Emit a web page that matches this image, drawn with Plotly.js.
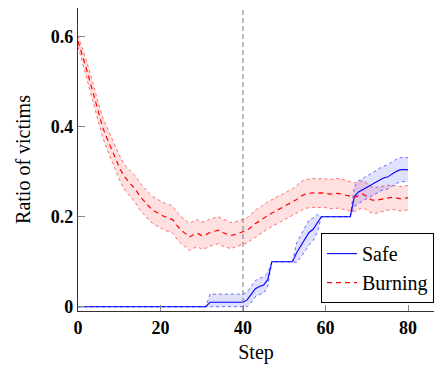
<!DOCTYPE html>
<html>
<head>
<meta charset="utf-8">
<script src="https://cdn.plot.ly/plotly-3.0.1.min.js"></script>
<style>
html,body{margin:0;padding:0;background:#fff;}
#chart{width:435px;height:367px;}
</style>
</head>
<body>
<div id="chart"></div>
<script>
// Steps 0..80
var steps = [];
for (var i = 0; i <= 80; i++) steps.push(i);

// Burning victims ratio (mean)
var burningMean = [
  0.590, 0.562, 0.530, 0.497, 0.462, 0.428, 0.398, 0.375, 0.352, 0.330,
  0.310, 0.292, 0.280, 0.270, 0.260, 0.245, 0.235, 0.225, 0.215, 0.210,
  0.205, 0.200, 0.197, 0.193, 0.180, 0.170, 0.163, 0.155, 0.160, 0.163,
  0.158, 0.160, 0.165, 0.168, 0.170, 0.165, 0.162, 0.158, 0.160, 0.163,
  0.166, 0.170, 0.177, 0.185, 0.190, 0.197, 0.203, 0.208, 0.213, 0.218,
  0.222, 0.227, 0.232, 0.238, 0.245, 0.250, 0.252, 0.253, 0.252, 0.253,
  0.252, 0.250, 0.251, 0.252, 0.250, 0.248, 0.245, 0.243, 0.247, 0.250,
  0.245, 0.238, 0.236, 0.238, 0.240, 0.242, 0.243, 0.242, 0.240, 0.241,
  0.242
];
// Half-width of the burning band
var burningSpread = [
  0.012, 0.015, 0.018, 0.020, 0.020, 0.022, 0.022, 0.024, 0.025, 0.026,
  0.027, 0.028, 0.028, 0.029, 0.030, 0.030, 0.030, 0.030, 0.030, 0.030,
  0.030, 0.030, 0.030, 0.030, 0.030, 0.030, 0.030, 0.030, 0.030, 0.030,
  0.030, 0.030, 0.030, 0.030, 0.030, 0.030, 0.030, 0.029, 0.028, 0.028,
  0.028, 0.028, 0.029, 0.030, 0.030, 0.030, 0.030, 0.030, 0.030, 0.030,
  0.030, 0.030, 0.030, 0.031, 0.032, 0.032, 0.032, 0.032, 0.032, 0.032,
  0.032, 0.032, 0.033, 0.033, 0.033, 0.033, 0.033, 0.032, 0.031, 0.030,
  0.030, 0.029, 0.029, 0.028, 0.028, 0.028, 0.027, 0.027, 0.027, 0.027,
  0.027
];
// Safe victims ratio (mean)
var safeMean = [
  0, 0, 0, 0, 0, 0, 0, 0, 0, 0,
  0, 0, 0, 0, 0, 0, 0, 0, 0, 0,
  0, 0, 0, 0, 0, 0, 0, 0, 0, 0,
  0, 0, 0.010, 0.010, 0.010, 0.010, 0.010, 0.010, 0.010, 0.010,
  0.010, 0.015, 0.028, 0.040, 0.045, 0.048, 0.060, 0.100, 0.100, 0.100,
  0.100, 0.100, 0.100, 0.120, 0.135, 0.150, 0.165, 0.172, 0.185, 0.200,
  0.200, 0.200, 0.200, 0.200, 0.200, 0.200, 0.200, 0.245, 0.255, 0.260,
  0.265, 0.270, 0.275, 0.281, 0.286, 0.288, 0.294, 0.300, 0.304, 0.305,
  0.304
];
// Half-width of the safe band
var safeSpread = [
  0, 0, 0, 0, 0, 0, 0, 0, 0, 0,
  0, 0, 0, 0, 0, 0, 0, 0, 0, 0,
  0, 0, 0, 0, 0, 0, 0, 0, 0, 0,
  0, 0, 0.018, 0.018, 0.018, 0.018, 0.018, 0.018, 0.018, 0.018,
  0.018, 0.018, 0.018, 0.018, 0.018, 0.018, 0.015, 0, 0, 0,
  0, 0, 0, 0.022, 0.025, 0.028, 0.028, 0.025, 0.020, 0,
  0, 0, 0, 0, 0, 0, 0, 0.022, 0.025, 0.025,
  0.025, 0.025, 0.026, 0.026, 0.026, 0.027, 0.027, 0.027, 0.027, 0.027,
  0.027
];
var xTicks = [0, 20, 40, 60, 80];
var yTicks = [0, 0.2, 0.4, 0.6];
var yTickText = ['0', '0.2', '0.4', '0.6'];
var markerStep = 40;

var burnUp = burningMean.map(function(v, i){ return v + burningSpread[i]; });
var burnLo = burningMean.map(function(v, i){ return v - burningSpread[i]; });
var safeUp = safeMean.map(function(v, i){ return v + safeSpread[i]; });
var safeLo = safeMean.map(function(v, i){ return Math.max(0, v - safeSpread[i]); });

var RED = 'rgb(255,0,0)', BLUE = 'rgb(0,0,255)';
var serif = '"Liberation Serif", "DejaVu Serif", serif';

var traces = [
  {x: steps, y: burnUp, mode: 'lines', line: {color: 'rgba(255,0,0,0.55)', width: 1, dash: 'dot'}, showlegend: false, hoverinfo: 'skip'},
  {x: steps, y: burnLo, mode: 'lines', fill: 'tonexty', fillcolor: 'rgba(255,0,0,0.12)', line: {color: 'rgba(255,0,0,0.55)', width: 1, dash: 'dot'}, showlegend: false, hoverinfo: 'skip'},
  {x: steps, y: safeUp, mode: 'lines', line: {color: 'rgba(0,0,255,0.55)', width: 1, dash: 'dot'}, showlegend: false, hoverinfo: 'skip'},
  {x: steps, y: safeLo, mode: 'lines', fill: 'tonexty', fillcolor: 'rgba(0,0,255,0.12)', line: {color: 'rgba(0,0,255,0.55)', width: 1, dash: 'dot'}, showlegend: false, hoverinfo: 'skip'},
  {x: steps, y: safeMean, mode: 'lines', name: 'Safe', line: {color: BLUE, width: 1.1}},
  {x: steps, y: burningMean, mode: 'lines', name: 'Burning', line: {color: RED, width: 1.2, dash: '5px,4px'}}
];

var layout = {
  width: 435, height: 367,
  margin: {l: 78, r: 1, t: 8, b: 56},
  paper_bgcolor: '#fff', plot_bgcolor: '#fff',
  showlegend: true,
  font: {family: serif, color: '#000'},
  xaxis: {
    range: [0, 86.3], showgrid: false, zeroline: false,
    showline: true, linecolor: '#333', linewidth: 1.2,
    ticks: 'inside', ticklen: 6, tickcolor: '#888', tickwidth: 1,
    tickvals: xTicks, ticktext: xTicks.map(String),
    tickfont: {family: serif, size: 18, color: '#000', weight: 'bold'},
    title: {text: 'Step', font: {family: serif, size: 20, color: '#000'}, standoff: 8}
  },
  yaxis: {
    range: [-0.0096, 0.6638], showgrid: false, zeroline: false,
    showline: true, linecolor: '#333', linewidth: 1.2,
    ticks: 'inside', ticklen: 7, tickcolor: '#888', tickwidth: 1,
    tickvals: yTicks, ticktext: yTickText,
    tickfont: {family: serif, size: 18, color: '#000', weight: 'bold'},
    title: {text: 'Ratio of victims', font: {family: serif, size: 20, color: '#000'}, standoff: 14}
  },
  shapes: [{
    type: 'line', xref: 'x', yref: 'paper', x0: markerStep, x1: markerStep, y0: 0, y1: 1,
    line: {color: '#777', width: 1, dash: '5px,3px'}
  }],
  legend: {
    x: 1, xanchor: 'right', y: 0.026, yanchor: 'bottom',
    bgcolor: '#fff', bordercolor: '#000', borderwidth: 1,
    font: {family: serif, size: 20, color: '#000'},
    traceorder: 'normal', tracegroupgap: 0
  }
};

Plotly.newPlot('chart', traces, layout, {displayModeBar: false, staticPlot: true});
</script>
</body>
</html>
